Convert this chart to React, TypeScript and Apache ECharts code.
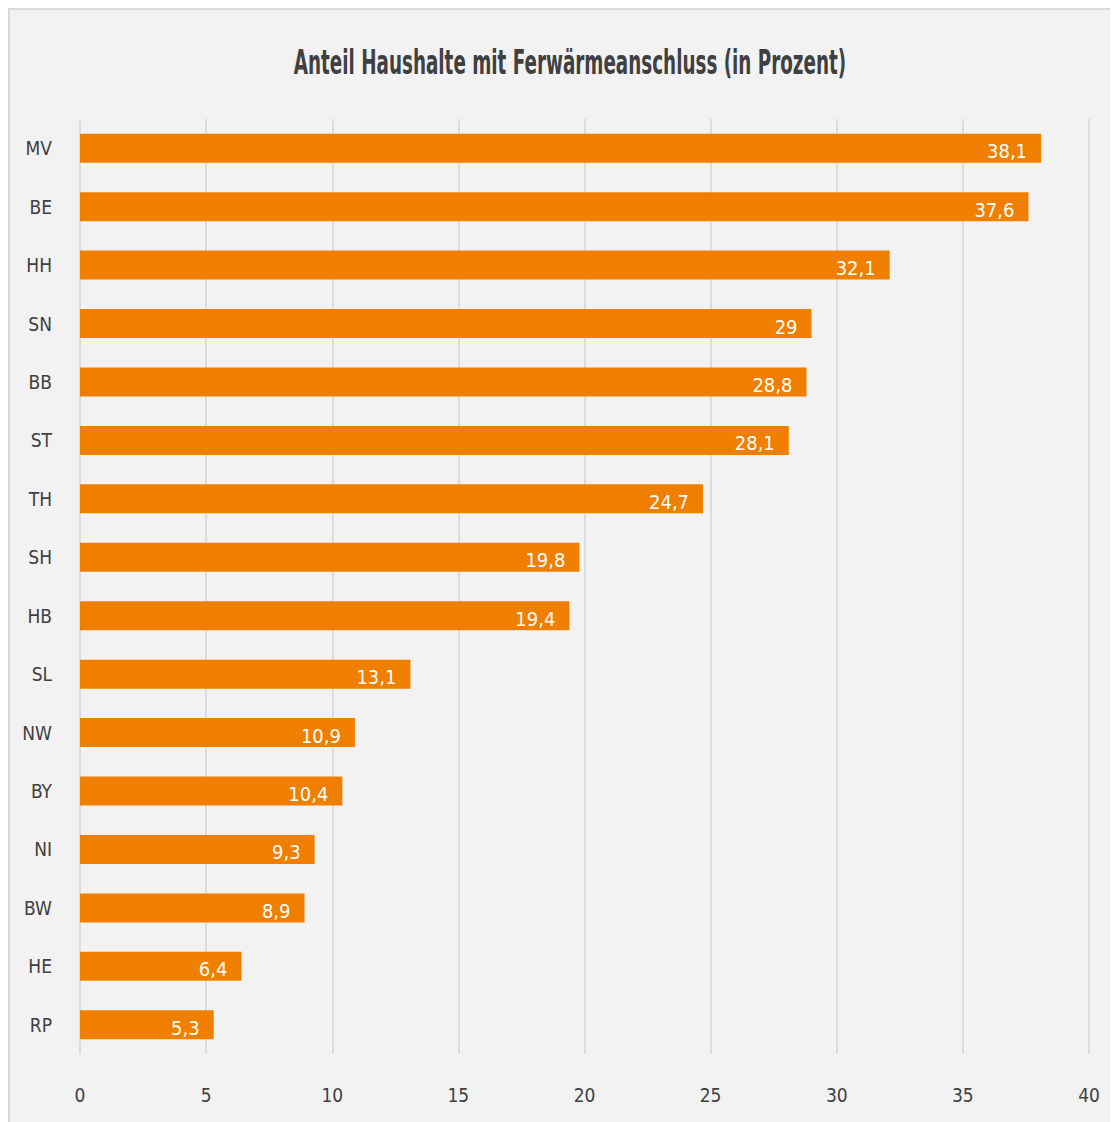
import React, { useEffect, useRef } from "react";
import * as echarts from "echarts";

const titleText = "Anteil Haushalte mit Ferwärmeanschluss (in Prozent)";
const categories = ["MV", "BE", "HH", "SN", "BB", "ST", "TH", "SH", "HB", "SL", "NW", "BY", "NI", "BW", "HE", "RP"];
const values = [38.1, 37.6, 32.1, 29, 28.8, 28.1, 24.7, 19.8, 19.4, 13.1, 10.9, 10.4, 9.3, 8.9, 6.4, 5.3];

const FONT = "'DejaVu Sans Condensed', 'Liberation Sans Narrow', sans-serif";

export default function App() {
  const ref = useRef<HTMLDivElement>(null);
  useEffect(() => {
    if (!ref.current) return;
    const chart = echarts.init(ref.current, undefined, { renderer: "svg" });
    chart.setOption({
      animation: false,
      backgroundColor: "#f2f2f2",
      graphic: [
        {
          type: "text",
          x: 560,
          y: 52,
          scaleX: 0.6,
          style: {
            text: titleText,
            fontFamily: FONT,
            fontSize: 34,
            fontWeight: "bold",
            fill: "#404040",
            align: "center",
            verticalAlign: "middle",
          },
        },
      ],
      grid: { left: 70, right: 29, top: 109, bottom: 68, containLabel: false },
      xAxis: {
        type: "value",
        min: 0,
        max: 40,
        interval: 5,
        axisLine: { show: false },
        axisTick: { show: false },
        splitLine: { show: true, lineStyle: { color: "#dcdcdc", width: 2 } },
        axisLabel: { fontFamily: FONT, fontSize: 19, color: "#404040", margin: 31 },
      },
      yAxis: {
        type: "category",
        data: categories,
        inverse: true,
        axisLine: { show: false },
        axisTick: { show: false },
        axisLabel: { fontFamily: FONT, fontSize: 19, color: "#404040", margin: 28 },
      },
      series: [
        {
          type: "bar",
          data: values,
          barWidth: 29,
          itemStyle: { color: "#f07f00" },
          label: {
            show: true,
            position: "insideRight",
            distance: 14,
            offset: [0, 3],
            color: "#ffffff",
            fontFamily: FONT,
            fontSize: 20,
            formatter: (p: any) => String(p.value).replace(".", ","),
          },
        },
      ],
    });
    return () => chart.dispose();
  }, []);
  return (
    <div
      ref={ref}
      style={{
        width: 1110,
        height: 1114,
        boxSizing: "border-box",
        borderLeft: "2px solid #d9d9d9",
        borderTop: "2px solid #d9d9d9",
      }}
    />
  );
}
